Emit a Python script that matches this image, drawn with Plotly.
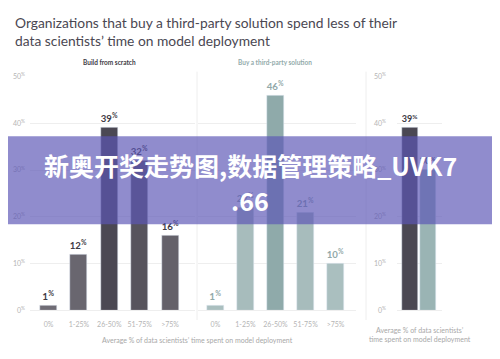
import plotly.graph_objects as go

categories = ["0%", "1-25%", "26-50%", "51-75%", ">75%"]
build_values = [1, 12, 39, 32, 16]
buy_values = [1, 22, 46, 21, 10]
avg_groups = ["Build", "Buy"]
avg_values = [39, 30]
y_ticks = [0, 10, 20, 30, 40, 50]
y_ticktext = [f"{v}<sup>%</sup>" for v in y_ticks]

build_colors = ["#6f6c75", "#69666f", "#4b4853", "#57545d", "#64616a"]
buy_colors = ["#aabfbf", "#a7bcbc", "#8faaaa", "#a7bcbc", "#aabfbf"]
avg_colors = ["#4b4853", "#9ab4b4"]

W, H = 500, 359
OFF = 8  # page body margin
def px(x):
    return (x - OFF) / W
def py(y):
    return 1 - (y - OFF) / H

fig = go.Figure()
fig.add_trace(go.Bar(x=categories, y=build_values, marker_color=build_colors, width=0.56,
                     text=[f"<b>{v}<sup>%</sup></b>" for v in build_values], textposition="outside",
                     textfont=dict(size=10, color="#3e3b45", family="Lato"), cliponaxis=False,
                     xaxis="x", yaxis="y"))
fig.add_trace(go.Bar(x=categories, y=buy_values, marker_color=buy_colors, width=0.57,
                     text=[f"<b>{v}<sup>%</sup></b>" for v in buy_values], textposition="outside",
                     textfont=dict(size=10, color="#92a9a9", family="Lato"), cliponaxis=False,
                     xaxis="x2", yaxis="y2"))
fig.add_trace(go.Bar(x=avg_groups, y=avg_values, marker_color=avg_colors, width=0.89,
                     text=[f"<b>{v}<sup>%</sup></b>" for v in avg_values], textposition="outside",
                     textfont=dict(size=10, color="#3e3b45", family="Lato"), cliponaxis=False,
                     xaxis="x3", yaxis="y3"))

ydom = [py(312), py(73)]
tickfont = dict(size=7, color="#b5b5b5", family="Lato")
common_y = dict(range=[0, 50], tickvals=y_ticks, ticktext=y_ticktext, showgrid=True,
                gridcolor="#eeeeee", gridwidth=1, zeroline=False, showline=False,
                tickfont=tickfont, domain=ydom, fixedrange=True)
common_x = dict(type="category", showgrid=False, zeroline=False, showline=True, linecolor="#eeeeee",
                tickfont=tickfont, ticks="", fixedrange=True, ticklabelstandoff=7)

fig.update_layout(
    width=W, height=H, margin=dict(l=0, r=0, t=0, b=0),
    paper_bgcolor="white", plot_bgcolor="white", showlegend=False, bargap=0,
    xaxis=dict(**common_x, domain=[px(30), px(195)], range=[-0.61, 4.82], anchor="y"),
    yaxis=dict(**common_y, anchor="x", ticklabelstandoff=4),
    xaxis2=dict(**common_x, domain=[px(198), px(356)], range=[-0.58, 4.68], anchor="y2"),
    yaxis2=dict(**common_y, anchor="x2", showticklabels=False),
    xaxis3=dict(**common_x, domain=[px(397), px(442)], range=[-0.72, 1.78], anchor="y3", showticklabels=False),
    yaxis3=dict(**common_y, anchor="x3", ticklabelstandoff=10),
)

shapes = [
    dict(type="line", xref="paper", yref="paper", x0=px(197), x1=px(197), y0=py(68), y1=py(322),
         line=dict(color="#eeeeee", width=1)),
    dict(type="line", xref="paper", yref="paper", x0=px(366), x1=px(366), y0=py(68), y1=py(322),
         line=dict(color="#eeeeee", width=1)),
    dict(type="rect", xref="paper", yref="paper", x0=px(0), x1=px(520), y0=py(224), y1=py(134),
         fillcolor="rgba(92,86,182,0.68)", line=dict(width=0), layer="above"),
]
fig.update_layout(shapes=shapes)

def note(text, x, y, size, color, xanchor="center", yanchor="middle", align="center", family="Lato"):
    return dict(text=text, x=x, y=y, xref="paper", yref="paper", xanchor=xanchor, yanchor=yanchor,
                align=align, showarrow=False, font=dict(size=size, color=color, family=family))

ann = [
    note("Organizations that buy a third-party solution spend less of their<br>data scientists’ time on model deployment",
         px(13), py(7), 13.8, "#4a4752", xanchor="left", yanchor="top", align="left"),
    note("<b>Build from scratch</b>", px(109), py(59), 6.5, "#3e3b45"),
    note("<b>Buy a third-party solution</b>", px(275), py(59), 6.5, "#93abab"),
    note("Average % of data scientists’ time spent on model deployment", px(197), py(342), 7, "#a8a8a8"),
    note("Average % of data scientists’<br>time spent on model deployment", px(420), py(337), 7, "#a8a8a8"),
    note("<b>新奥开奖走势图,数据管理策略_UVK7</b>", px(250), py(163), 25, "white", family="Noto Sans CJK SC"),
    note("<b>.66</b>", px(250), py(199), 25, "white", family="Noto Sans CJK SC"),
]
fig.update_layout(annotations=ann)

fig.write_html("out.html")
